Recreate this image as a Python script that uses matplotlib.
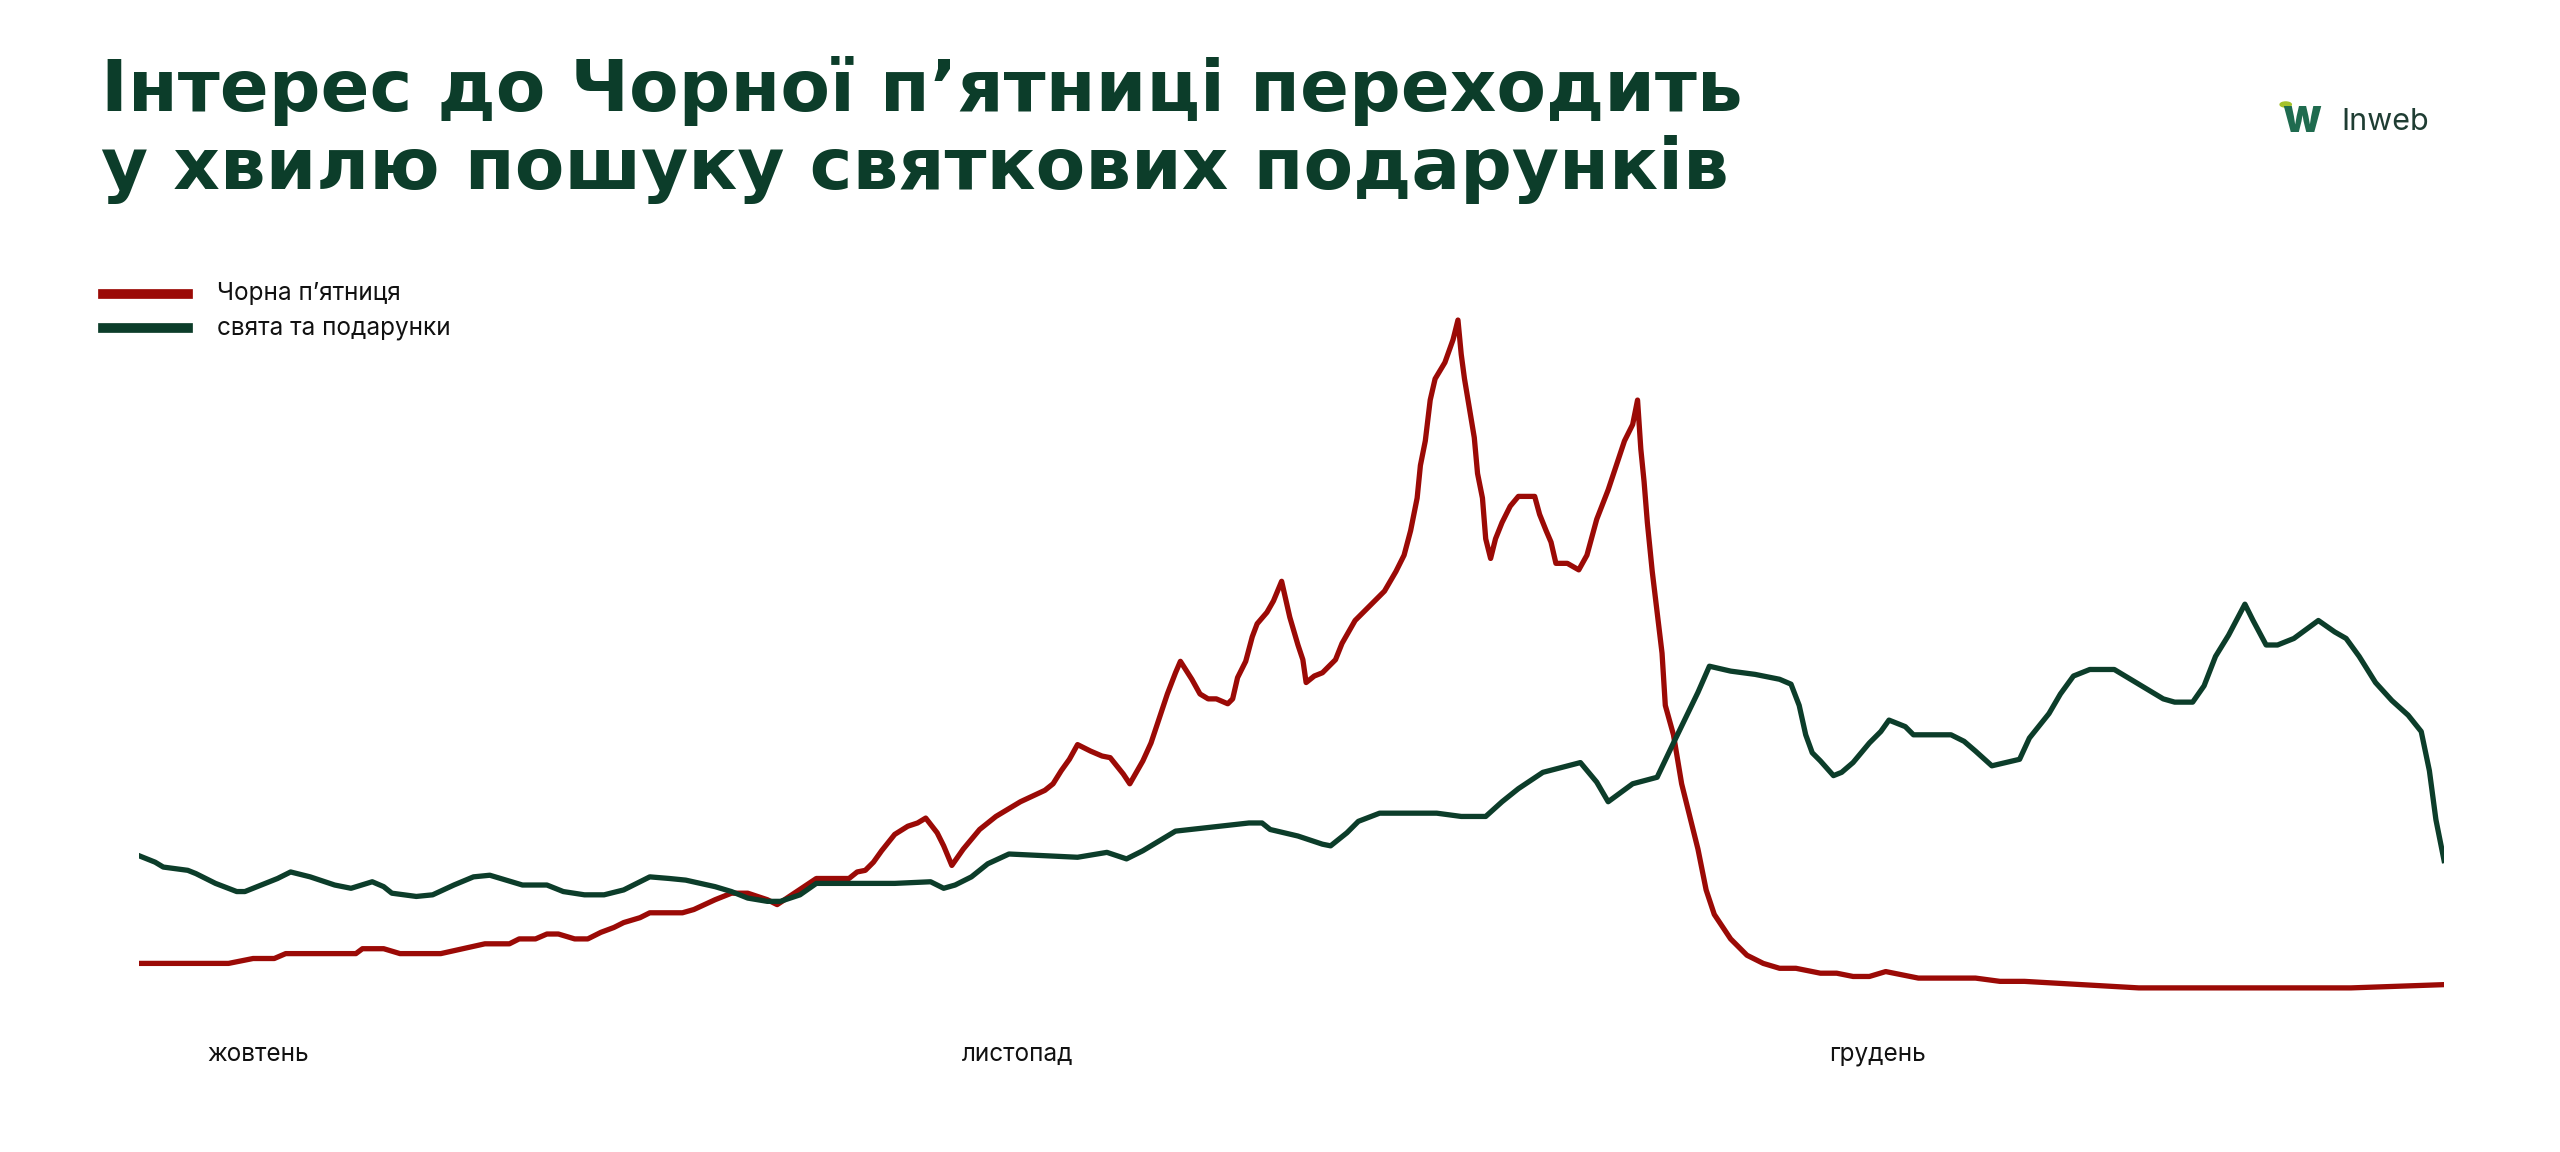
import matplotlib
matplotlib.use("Agg")
import matplotlib.pyplot as plt

# timeline position (chart units) and interest values (arbitrary units)
red_x = [85,140,155,168,175,218,222,235,245,270,297,312,318,328,335,342,352,360,368,376,382,392,398,418,425,438,448,458,470,476,488,500,520,525,530,535,540,548,556,562,567,574,578,583,590,600,610,625,640,645,650,655,660,668,675,680,688,692,700,705,710,715,720,723,730,735,740,745,752,755,758,763,767,770,776,780,785,790,795,798,800,805,810,818,822,830,840,848,855,860,864,868,870,873,876,879,885,890,893,895,897,900,903,905,908,910,913,916,920,925,930,940,943,947,950,953,960,967,972,978,985,990,995,1000,1003,1005,1007,1009,1012,1015,1018,1020,1025,1030,1040,1045,1050,1060,1070,1080,1090,1100,1115,1125,1135,1145,1155,1175,1210,1225,1240,1310,1440,1497]
red_y = [590,590,587,587,584,584,581,581,584,584,578,578,575,575,572,572,575,575,571,568,565,562,559,559,557,551,547,547,551,554,546,538,538,534,533,528,521,511,506,504,501,510,518,530,520,508,500,491,484,480,472,465,456,460,463,464,474,480,466,455,440,425,412,405,416,425,428,428,431,428,415,405,390,382,375,368,356,378,395,404,418,414,412,404,394,380,370,362,350,340,325,305,285,270,245,232,222,208,196,217,232,250,268,290,305,330,342,330,320,310,304,304,315,325,332,345,345,349,340,318,300,285,270,260,245,275,295,320,350,375,400,432,450,480,520,545,560,575,585,590,593,593,596,596,598,598,595,599,599,601,601,605,605,603]
green_x = [85,95,100,115,120,132,145,150,160,170,178,190,205,215,228,235,240,255,265,278,290,300,320,335,345,358,370,382,398,410,420,438,448,458,470,478,490,500,548,570,578,585,595,605,618,660,678,690,700,720,765,773,778,795,810,815,825,832,845,880,895,910,920,930,945,968,978,985,1000,1015,1025,1040,1047,1060,1075,1090,1097,1102,1106,1110,1115,1123,1128,1135,1145,1152,1157,1167,1172,1195,1203,1210,1220,1237,1243,1255,1262,1270,1280,1295,1315,1325,1332,1343,1350,1357,1365,1375,1380,1388,1395,1405,1420,1430,1437,1445,1455,1465,1475,1483,1488,1492,1497]
green_y = [524,528,531,533,535,541,546,546,542,538,534,537,542,544,540,543,547,549,548,542,537,536,542,542,546,548,548,545,537,538,539,543,546,550,552,552,548,541,541,540,544,542,537,529,523,525,522,526,521,509,504,504,508,512,517,518,510,503,498,498,500,500,491,483,473,467,479,491,480,476,455,424,408,411,413,416,419,432,450,461,466,475,473,467,455,448,441,445,450,450,454,460,469,465,452,437,425,414,410,410,422,428,430,430,420,402,389,370,380,395,395,391,380,387,391,402,418,429,438,448,472,502,527]
red_v = [620 - v for v in red_y]
green_v = [620 - v for v in green_y]
months = ["жовтень", "листопад", "грудень"]
month_pos = [158, 623, 1150]
series_names = ["Чорна п\u2019ятниця", "свята та подарунки"]

RED = "#9b0a06"
GREEN = "#0c3d2a"

fig = plt.figure(figsize=(25.6, 11.52), dpi=100)
ax = fig.add_axes([85/1568, 1-620/705.5, (1497-85)/1568, 440/705.5])
ax.plot(red_x, red_v, color=RED, lw=3.8, solid_joinstyle="round")
ax.plot(green_x, green_v, color=GREEN, lw=3.8, solid_joinstyle="round")
ax.set_xlim(85, 1497)
ax.set_ylim(0, 440)
ax.axis("off")

for m, p in zip(months, month_pos):
    fig.text(p/1568, 1-646/705.5, m, ha="center", va="center", fontsize=17.5, color="#111", family="Inter")

for i, line in enumerate(["Інтерес до Чорної п\u2019ятниці переходить", "у хвилю пошуку святкових подарунків"]):
    fig.text(62/1568, 1-(56+48*i)/705.5, line, fontsize=52, fontweight="bold",
             color=GREEN, family="DejaVu Sans", va="center")

for i, (nm, c) in enumerate(zip(series_names, [RED, GREEN])):
    y = 1 - (180 + 21*i)/705.5
    fig.add_artist(plt.Line2D([63/1568, 115/1568], [y, y], color=c, lw=7))
    fig.text(133/1568, y, nm, fontsize=17.5, va="center", color="#111", family="Inter")

# logo
fig.text(1398/1568, 1-75/705.5, "W", fontsize=26, fontweight="black", color="#1f6b4f", va="center", family="Inter")
fig.add_artist(plt.Circle((1400/1568, 1-64/705.5), 0.0022, transform=fig.transFigure, color="#a4c12a"))
fig.text(1434/1568, 1-75/705.5, "Inweb", fontsize=22, color="#1f3d33", va="center", family="Inter")

fig.savefig("out.png", dpi=100)
